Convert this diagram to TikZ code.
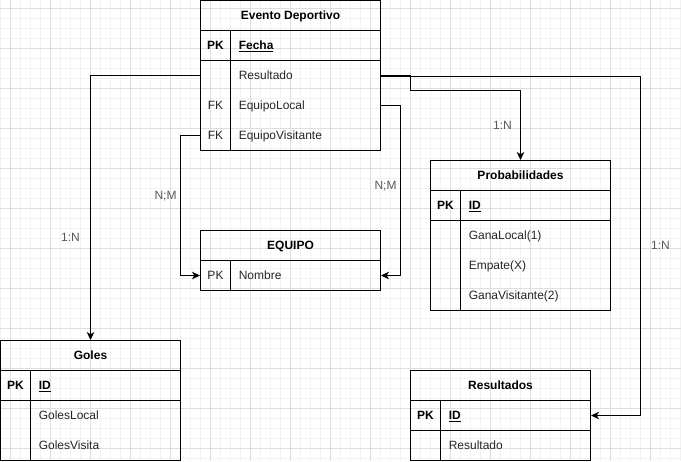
\documentclass[tikz,border=0pt]{standalone}
\usepackage{fontspec}
\setmainfont{Liberation Sans}
\usetikzlibrary{arrows.meta}
\begin{document}
\begin{tikzpicture}[x=0.75pt,y=-0.75pt,
  gminor/.style={draw=black!5, line width=0.75pt},
  gmajor/.style={draw=black!13, line width=0.75pt},
  tbox/.style={draw, line width=0.75pt, minimum width=135pt, minimum height=22.5pt, inner sep=0},
  hdr/.style={tbox, font=\fontsize{9}{10}\selectfont\bfseries, text height=6.4pt, text depth=0pt},
  rowbox/.style={minimum width=135pt, minimum height=22.5pt, inner sep=0},
  txt/.style={inner sep=0, text height=6.4pt, text depth=0pt, font=\fontsize{9}{10}\selectfont, anchor=west, text=black!85},
  kcell/.style={txt, anchor=center},
  bkcell/.style={kcell, font=\fontsize{9}{10}\selectfont\bfseries, text=black},
  bval/.style={txt, font=\fontsize{9}{10}\selectfont\bfseries, text=black},
  sep/.style={draw, line width=0.75pt},
  conn/.style={draw, line width=0.75pt, -{Stealth[length=6pt,width=5.6pt,inset=1.7pt]}},
  lbl/.style={inner sep=0, text height=6.4pt, text depth=0pt, font=\fontsize{9}{10}\selectfont, text=black!65}
]
\useasboundingbox (0,0) rectangle (681,461);
\fill[white] (0,0) rectangle (681,461);
\begin{scope}
\clip (0,0) rectangle (681,461);
\foreach \i in {0,...,68} { \draw[gminor] (\i*10+0.5,0) -- (\i*10+0.5,461); }
\foreach \j in {0,...,46} { \draw[gminor] (0,\j*10-1.5) -- (681,\j*10-1.5); }
\foreach \i in {0,...,17} { \draw[gmajor] (\i*40+10.5,0) -- (\i*40+10.5,461); }
\foreach \j in {0,...,11} { \draw[gmajor] (0,\j*40+8.5) -- (681,\j*40+8.5); }
\end{scope}

\begin{scope}[shift={(0.5,0.5)}]
% ---------- Evento Deportivo ----------
\node[hdr] (ev) at (290,15) {Evento Deportivo};
\node[tbox] (evpk) at (290,45) {};
\node[tbox, minimum height=67.5pt] (evat) at (290,105) {};
\draw[sep] (230,30) -- (230,150);
\node[bkcell] (evk1) at (215,45) {PK};
\node[bval] (evv1) at (238,45) {\underline{Fecha}};
\node[rowbox] (evres) at (290,75) {};
\node[rowbox] (evloc) at (290,105) {};
\node[rowbox] (evvis) at (290,135) {};
\node[txt] (evv2) at (238,75) {Resultado};
\node[kcell] (evk3) at (215,105) {FK};
\node[txt] (evv3) at (238,105) {EquipoLocal};
\node[kcell] (evk4) at (215,135) {FK};
\node[txt] (evv4) at (238,135) {EquipoVisitante};

% ---------- EQUIPO ----------
\node[hdr] (eq) at (290,245) {EQUIPO};
\node[tbox] (eqrow) at (290,275) {};
\draw[sep] (230,260) -- (230,290);
\node[kcell] (eqk1) at (215,275) {PK};
\node[txt] (eqv1) at (238,275) {Nombre};

% ---------- Probabilidades ----------
\node[hdr] (pr) at (520,175) {Probabilidades};
\node[tbox] (prpk) at (520,205) {};
\node[tbox, minimum height=67.5pt] (prat) at (520,265) {};
\draw[sep] (460,190) -- (460,310);
\node[bkcell] (prk1) at (445,205) {PK};
\node[bval] (prv1) at (468,205) {\underline{ID}};
\node[txt] (prv2) at (468,235) {GanaLocal(1)};
\node[txt] (prv3) at (468,265) {Empate(X)};
\node[txt] (prv4) at (468,295) {GanaVisitante(2)};

% ---------- Goles ----------
\node[hdr] (go) at (90,355) {Goles};
\node[tbox] (gopk) at (90,385) {};
\node[tbox, minimum height=45pt] (goat) at (90,430) {};
\draw[sep] (30,370) -- (30,460);
\node[bkcell] (gok1) at (15,385) {PK};
\node[bval] (gov1) at (38,385) {\underline{ID}};
\node[txt] (gov2) at (38,415) {GolesLocal};
\node[txt] (gov3) at (38,445) {GolesVisita};

% ---------- Resultados ----------
\node[hdr] (re) at (500,385) {Resultados};
\node[tbox] (repk) at (500,415) {};
\node[tbox] (reat) at (500,445) {};
\draw[sep] (440,400) -- (440,460);
\node[bkcell] (rek1) at (425,415) {PK};
\node[bval] (rev1) at (448,415) {\underline{ID}};
\node[txt] (rev2) at (448,445) {Resultado};

% ---------- connectors ----------
\draw[conn] (evres.west) -| (go.north);
\draw[conn] (evvis.west) -- ++(-20,0) |- (eqrow.west);
\draw[conn] (evloc.east) -- ++(20,0) |- (eqrow.east);
\draw[conn] (evres.east) -- ++(30,0) -- ++(0,15) -| (pr.north);
\draw[conn] ([yshift=-0.75pt]evres.east) -- ++(260,0) |- (repk.east);

% ---------- labels ----------
\node[lbl] (l1) at (70,237) {1:N};
\node[lbl] (l2) at (165,195) {N;M};
\node[lbl] (l3) at (385,185) {N;M};
\node[lbl] (l4) at (502,125) {1:N};
\node[lbl] (l5) at (660,245) {1:N};
\end{scope}
\end{tikzpicture}
\end{document}
